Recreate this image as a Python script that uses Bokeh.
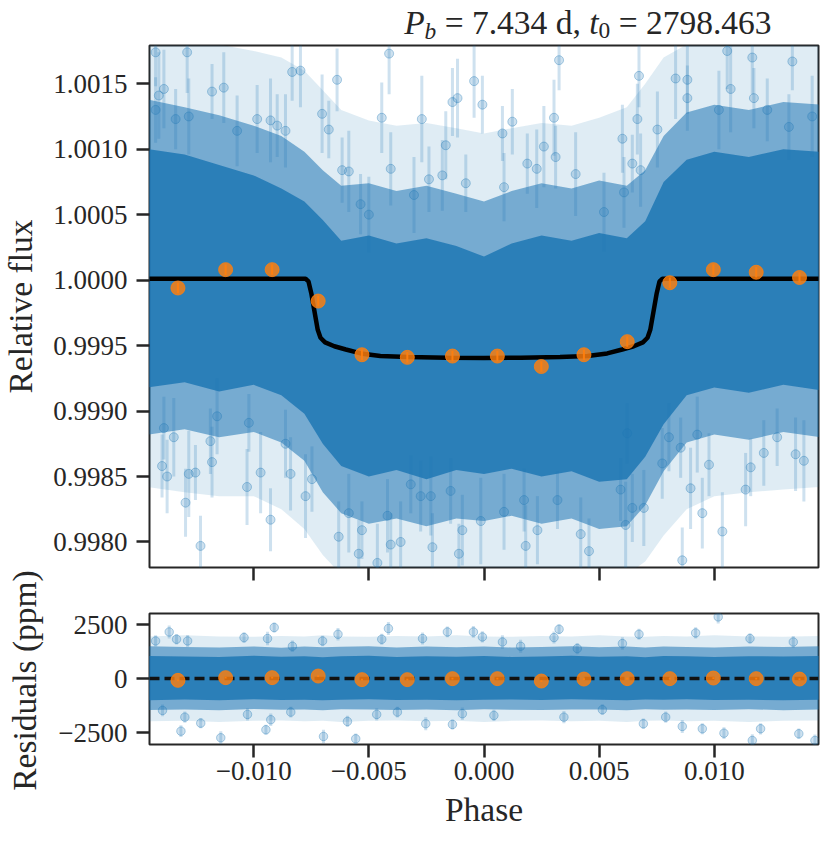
import numpy as np
from bokeh.plotting import figure
from bokeh.models import (ColumnDataSource, FixedTicker, Label, Range1d,
                          CustomJSTickFormatter, PrintfTickFormatter)
from bokeh.layouts import row, column
from bokeh.embed import file_html
from bokeh.resources import INLINE

# ---------------- data ----------------
# dense point cloud envelopes (top panel), flux vs phase
band_phase = [-0.01460, -0.01300, -0.01150, -0.01000, -0.00880, -0.00780, -0.00700,
              -0.00620, -0.00500, -0.00380, -0.00250, -0.00120, 0.00000, 0.00120,
              0.00250, 0.00380, 0.00500, 0.00620, 0.00700, 0.00780, 0.00880,
              0.01000, 0.01150, 0.01300, 0.01460]
core_hi = [1.00100, 1.00096, 1.00088, 1.00080, 1.00070, 1.00060, 1.00046, 1.00030, 1.00034,
           1.00028, 1.00032, 1.00026, 1.00018, 1.00028, 1.00034, 1.00030, 1.00036, 1.00032,
           1.00045, 1.00075, 1.00092, 1.00098, 1.00094, 1.00100, 1.00098]
core_lo = [0.99918, 0.99922, 0.99915, 0.99920, 0.99912, 0.99898, 0.99875, 0.99858, 0.99850,
           0.99855, 0.99848, 0.99855, 0.99852, 0.99856, 0.99850, 0.99854, 0.99846, 0.99848,
           0.99865, 0.99890, 0.99912, 0.99918, 0.99914, 0.99920, 0.99916]
mid_hi = [1.00138, 1.00132, 1.00126, 1.00118, 1.00110, 1.00098, 1.00084, 1.00072, 1.00074,
          1.00068, 1.00072, 1.00066, 1.00060, 1.00068, 1.00074, 1.00070, 1.00076, 1.00072,
          1.00084, 1.00110, 1.00128, 1.00134, 1.00130, 1.00136, 1.00134]
mid_lo = [0.99882, 0.99886, 0.99880, 0.99884, 0.99876, 0.99862, 0.99838, 0.99822, 0.99814,
          0.99818, 0.99812, 0.99818, 0.99816, 0.99820, 0.99814, 0.99818, 0.99810, 0.99812,
          0.99828, 0.99854, 0.99876, 0.99882, 0.99878, 0.99884, 0.99880]
outer_hi = [1.00185, 1.00185, 1.00180, 1.00175, 1.00170, 1.00160, 1.00145, 1.00130, 1.00122,
            1.00118, 1.00120, 1.00116, 1.00112, 1.00116, 1.00120, 1.00118, 1.00124, 1.00132,
            1.00150, 1.00170, 1.00180, 1.00185, 1.00185, 1.00185, 1.00185]
outer_lo = [0.99842, 0.99838, 0.99835, 0.99835, 0.99825, 0.99810, 0.99790, 0.99775, 0.99775,
            0.99775, 0.99775, 0.99775, 0.99775, 0.99775, 0.99775, 0.99775, 0.99775, 0.99775,
            0.99785, 0.99805, 0.99825, 0.99835, 0.99838, 0.99840, 0.99842]

# individual, clearly visible points outside the dense cloud (top panel)
top_out_phase = [
    -0.01426, -0.01289, -0.00833, -0.00797, -0.00638, -0.01390, -0.01181, -0.01130,
    -0.01412, -0.01426, -0.01282, -0.01339, -0.00985, -0.00927, -0.00898, -0.00862,
    -0.00703, -0.00674, -0.01072, -0.00616, -0.00587, -0.00536, -0.00500,
    -0.01398, -0.01376, -0.01282, -0.01253, -0.01296, -0.01347, -0.01188, -0.01181,
    -0.01021, -0.01029, -0.00970, -0.00927, -0.00862, -0.00840, -0.01231, -0.00775,
    -0.00747, -0.00631, -0.00587, -0.00530, -0.00544, -0.01159, -0.01390,
    -0.00412, 0.00326, -0.00043, -0.00137, -0.00115, -0.00007, -0.00444, -0.00270,
    0.00123, 0.00304, 0.00080, -0.00166, 0.00260, 0.00311, -0.00405, 0.00188,
    0.00229, -0.00239, -0.00181, 0.00398, -0.00079, 0.00087, -0.00304,
    -0.00405, -0.00362, -0.00224, -0.00419, -0.00318, -0.00231, -0.00145, -0.00094,
    -0.00014, -0.00109, 0.00087, 0.00174, 0.00232, 0.00181, 0.00319, 0.00420,
    0.00456, -0.00463, -0.00275,
    0.01056, 0.00673, 0.00832, 0.00883, 0.01339, 0.01165, 0.01071, 0.00883,
    0.00666, 0.01020, 0.01172, 0.00601, 0.00753, 0.01230, 0.01425, 0.00644,
    0.00680, 0.01324, 0.00608, 0.00521,
    0.00803, 0.00854, 0.00926, 0.00897, 0.00977, 0.01136, 0.01158, 0.00948,
    0.01035, 0.00861, 0.00615, 0.00644, 0.00593, 0.00694, 0.01273, 0.01353,
    0.01389, 0.01215, 0.00774, 0.00622]
top_out_flux = [
    1.00174, 1.00174, 1.00159, 1.00160, 1.00153, 1.00146, 1.00144, 1.00147,
    1.00141, 1.00130, 1.00125, 1.00123, 1.00123, 1.00122, 1.00118, 1.00114,
    1.00127, 1.00115, 1.00114, 1.00084, 1.00083, 1.00058, 1.00050,
    0.99858, 0.99850, 0.99852, 0.99853, 0.99830, 0.99880, 0.99877, 0.99861,
    0.99891, 0.99842, 0.99853, 0.99817, 0.99875, 0.99852, 0.99797, 0.99835,
    0.99848, 0.99804, 0.99822, 0.99809, 0.99791, 0.99896, 0.99887,
    1.00173, 1.00168, 1.00152, 1.00136, 1.00139, 1.00134, 1.00124, 1.00123,
    1.00121, 1.00124, 1.00112, 1.00103, 1.00102, 1.00094, 1.00085, 1.00089,
    1.00085, 1.00077, 1.00080, 1.00081, 1.00074, 1.00071, 1.00065,
    0.99798, 0.99800, 0.99796, 0.99820, 0.99844, 0.99835, 0.99839, 0.99809,
    0.99816, 0.99791, 0.99823, 0.99832, 0.99809, 0.99797, 0.99832, 0.99806,
    0.99793, 0.99784, 0.99835,
    1.00175, 1.00156, 1.00154, 1.00153, 1.00167, 1.00170, 1.00146, 1.00139,
    1.00123, 1.00130, 1.00139, 1.00108, 1.00115, 1.00130, 1.00125, 1.00089,
    1.00084, 1.00117, 1.00067, 1.00052,
    0.99880, 0.99872, 0.99882, 0.99841, 0.99859, 0.99840, 0.99857, 0.99822,
    0.99808, 0.99786, 0.99813, 0.99826, 0.99840, 0.99826, 0.99880, 0.99867,
    0.99862, 0.99868, 0.99860, 0.99883]
top_out_err = [
    0.00026, 0.00031, 0.00022, 0.00028, 0.00024, 0.00030, 0.00021, 0.00027,
    0.00033, 0.00025, 0.00029, 0.00023, 0.00026, 0.00032, 0.00024, 0.00028,
    0.00030, 0.00022, 0.00027, 0.00025, 0.00031, 0.00023, 0.00029,
    0.00024, 0.00028, 0.00033, 0.00021, 0.00026, 0.00030, 0.00025, 0.00027,
    0.00022, 0.00029, 0.00031, 0.00024, 0.00026, 0.00028, 0.00023, 0.00032,
    0.00025, 0.00027, 0.00030, 0.00022, 0.00026, 0.00029, 0.00024,
    0.00031, 0.00023, 0.00028, 0.00026, 0.00030, 0.00022, 0.00027, 0.00033,
    0.00025, 0.00029, 0.00021, 0.00026, 0.00031, 0.00024, 0.00028, 0.00023,
    0.00030, 0.00025, 0.00027, 0.00032, 0.00022, 0.00026, 0.00029,
    0.00024, 0.00031, 0.00026, 0.00028, 0.00022, 0.00030, 0.00025, 0.00027,
    0.00033, 0.00023, 0.00029, 0.00024, 0.00026, 0.00031, 0.00022, 0.00028,
    0.00025, 0.00030, 0.00027,
    0.00029, 0.00024, 0.00031, 0.00026, 0.00022, 0.00028, 0.00033, 0.00025,
    0.00027, 0.00030, 0.00023, 0.00026, 0.00029, 0.00024, 0.00031, 0.00022,
    0.00028, 0.00025, 0.00027, 0.00030,
    0.00026, 0.00023, 0.00029, 0.00031, 0.00024, 0.00028, 0.00022, 0.00027,
    0.00030, 0.00025, 0.00033, 0.00026, 0.00024, 0.00029, 0.00022, 0.00028,
    0.00031, 0.00025, 0.00027, 0.00023]

# transit model (black curve)
model_phase = [-0.01460, -0.00775, -0.00762, -0.00750, -0.00735, -0.00722, -0.00710,
               -0.00690, -0.00650, -0.00600, -0.00535, -0.00450, -0.00330, -0.00160,
               0.00000, 0.00160, 0.00330, 0.00450, 0.00535, 0.00600, 0.00650, 0.00690,
               0.00710, 0.00722, 0.00735, 0.00750, 0.00762, 0.00775, 0.01460]
model_flux = [1.00001, 1.00001, 0.99999, 0.99990, 0.99975, 0.99962, 0.99956,
              0.999525, 0.999495, 0.99947, 0.99944, 0.99942, 0.999413, 0.999407,
              0.999405, 0.999407, 0.999413, 0.99942, 0.99944, 0.99947, 0.999495, 0.999525,
              0.99956, 0.99962, 0.99975, 0.99990, 0.99999, 1.00001, 1.00001]

# binned points (orange)
bin_phase = [-0.01329, -0.01122, -0.00920, -0.00720, -0.00530, -0.00333, -0.00137,
             0.00058, 0.00249, 0.00434, 0.00622, 0.00807, 0.00996, 0.01182, 0.01370]
bin_flux = [0.99994, 1.00008, 1.00008, 0.99984, 0.99943, 0.99941, 0.99942,
            0.99942, 0.99934, 0.99943, 0.99953, 0.99998, 1.00008, 1.00006, 1.00002]
bin_flux_err = [0.00004, 0.00004, 0.00004, 0.00004, 0.00004, 0.00004, 0.00004,
                0.00004, 0.00004, 0.00004, 0.00004, 0.00004, 0.00004, 0.00004, 0.00004]
bin_res = [-79, 46, 46, 120, -46, -46, 0, 0, -111, -19, 0, 0, 28, 0, -19]
bin_res_err = [40, 40, 40, 40, 40, 40, 40, 40, 40, 40, 40, 40, 40, 40, 40]

# residual cloud envelopes (ppm)
res_core_hi = [1050, 1020, 1000, 1060, 1010, 1040, 990, 1030, 1060, 1000, 1030, 1010, 1050,
               1000, 1020, 1060, 1010, 1040, 990, 1050, 1030, 1000, 1040, 1020, 1050]
res_core_lo = [-1000, -960, -1000, -950, -990, -970, -1000, -980, -950, -990, -970, -1000, -980,
               -960, -990, -950, -980, -1000, -960, -980, -950, -990, -970, -1000, -980]
res_mid_hi = [1500, 1460, 1440, 1490, 1430, 1480, 1450, 1470, 1500, 1440, 1480, 1450, 1490,
              1440, 1460, 1500, 1450, 1480, 1440, 1490, 1460, 1440, 1480, 1460, 1500]
res_mid_lo = [-1450, -1420, -1460, -1400, -1440, -1430, -1460, -1410, -1420, -1450, -1430, -1460, -1410,
              -1440, -1450, -1420, -1430, -1460, -1410, -1440, -1420, -1450, -1410, -1460, -1430]
res_outer_hi = [1950, 2000, 1950, 1930, 1970, 1950, 2000, 1950, 1930, 1970, 1950, 2000, 1950,
                1930, 1970, 1950, 2000, 1950, 1930, 1970, 1950, 2000, 1950, 1930, 1970]
res_outer_lo = [-1970, -1950, -2000, -1950, -1930, -1970, -1950, -2000, -1950, -1930, -1970, -1950, -2000,
                -1950, -1930, -1970, -1950, -2000, -1950, -1930, -1970, -1950, -2000, -1950, -1930]

# residual outliers (ppm)
res_out_phase = [
    -0.01426, -0.01367, -0.01335, -0.01287, -0.01042, -0.00940, -0.00911, -0.00832,
    -0.00634, -0.00444, -0.00415, -0.00701, -0.00046, -0.00007, 0.00080, 0.00326,
    0.00304, 0.00673, 0.00601, 0.00919, 0.01017, 0.01155, 0.01343, -0.00267,
    -0.00159, 0.00159, 0.00405,
    -0.01316, -0.01230, -0.01143, -0.01299, -0.01027, -0.00947, -0.00926, -0.00839,
    -0.00697, -0.00593, -0.00557, -0.00466, -0.01396, -0.00376, -0.00253, -0.00137,
    -0.00094, 0.00043, 0.00347, 0.00692, 0.00861, 0.00948, 0.01042, 0.01201,
    0.01165, 0.01367, 0.01437, 0.00789, 0.00514]
res_out_val = [
    1741, 2157, 1819, 1741, 1898, 1852, 2361, 1495,
    2051, 1819, 2315, 1741, 2157, 1926, 1694, 2282,
    1898, 2051, 1620, 2111, 2852, 1852, 1694, 1852,
    2157, 1495, 1389,
    -2426, -2056, -2731, -1778, -1653, -2361, -1898, -1546,
    -2671, -1977, -2778, -1653, -1468, -1546, -2083, -2116,
    -1620, -1699, -1778, -2083, -2208, -2315, -2519, -2315,
    -2856, -2546, -2856, -1778, -1435]
res_out_err = [
    260, 300, 240, 280, 250, 310, 230, 270,
    290, 250, 300, 240, 270, 260, 310, 230,
    280, 250, 290, 260, 300, 240, 270, 280,
    250, 300, 260,
    270, 240, 300, 260, 280, 230, 290, 250,
    310, 260, 240, 280, 270, 250, 300, 230,
    290, 260, 280, 240, 300, 250, 270, 260,
    290, 240, 280, 260, 250]

zero_level = [0.0]

x_ticks = [-0.010, -0.005, 0.000, 0.005, 0.010]
flux_ticks = [0.9980, 0.9985, 0.9990, 0.9995, 1.0000, 1.0005, 1.0010, 1.0015]
res_ticks = [-2500, 0, 2500]

# ---------------- styling ----------------
BLUE = "#1f77b4"
ORANGE = "#ff7f0e"
INK = "#262626"
FONT = "Liberation Serif"
TICK_FS = "27px"
LABEL_FS = "33.5px"
BASE_SHIFT = 0.40   # empirical offset (in em) of the alphabetic baseline of Labels

x_range = Range1d(-0.014525, 0.014525)


def style_axes(p):
    p.outline_line_color = INK
    p.outline_line_width = 2
    p.grid.visible = False
    p.background_fill_color = "white"
    p.border_fill_color = "white"
    for ax in p.axis:
        ax.axis_line_color = None
        ax.major_tick_line_color = INK
        ax.major_tick_line_width = 2.5
        ax.major_tick_out = 13
        ax.major_tick_in = 0
        ax.minor_tick_line_color = None
        ax.major_label_text_font = FONT
        ax.major_label_text_font_size = TICK_FS
        ax.major_label_text_color = INK


COL_W = 781

# ---- title strip ----
tfig = figure(width=COL_W, height=44, title=None, toolbar_location=None, output_backend="svg",
              x_axis_location=None, y_axis_location=None, min_border=0,
              x_range=Range1d(0, 1), y_range=Range1d(0, 1))
tfig.outline_line_color = None
tfig.grid.visible = False
F = 33.5
adv = {"P": 0.611, "b": 0.5, "t": 0.278, " ": 0.25, "=": 0.564, ".": 0.25, ",": 0.25, "d": 0.5}
# (text, style, relative size, baseline from strip bottom, gap before in em)
pieces = [("P", "italic", 1.0, 9, 0.0), ("b", "italic", 0.7, 4.5, 0.0),
          ("= 7.434 d,", "normal", 1.0, 9, 0.25),
          ("t", "italic", 1.0, 9, 0.25), ("0", "normal", 0.7, 4.5, 0.0),
          ("= 2798.463", "normal", 1.0, 9, 0.25)]


def width_of(s, scale):
    return sum(adv.get(c, 0.5) for c in s) * F * scale


total = sum(width_of(s, sc) + gap * F for s, _, sc, _, gap in pieces)
cx = 438.35 - total / 2
for s, style, sc, by, gap in pieces:
    cx += gap * F
    tfig.add_layout(Label(x=cx, y=by + BASE_SHIFT * F * sc, x_units="screen", y_units="screen",
                          text=s, text_font=FONT, text_font_size=f"{F * sc:.1f}px",
                          text_font_style=style, text_color=INK,
                          text_align="left", text_baseline="alphabetic"))
    cx += width_of(s, sc)

# ---- top panel ----
p1 = figure(width=COL_W, height=546, title=None, x_range=x_range,
            y_range=Range1d(0.997805, 1.001792), toolbar_location=None,
            output_backend="svg", min_border_left=104, min_border_right=8,
            min_border_top=1, min_border_bottom=23)
style_axes(p1)
p1.xaxis.ticker = FixedTicker(ticks=x_ticks)
p1.xaxis.formatter = CustomJSTickFormatter(code="return '';")
p1.xaxis.major_label_text_font_size = "2px"
p1.yaxis.ticker = FixedTicker(ticks=flux_ticks)
p1.yaxis.formatter = PrintfTickFormatter(format="%.4f")
p1.yaxis.major_label_standoff = 9

p1.varea(x=band_phase, y1=outer_lo, y2=outer_hi, fill_color=BLUE, fill_alpha=0.14)
p1.varea(x=band_phase, y1=mid_lo, y2=mid_hi, fill_color=BLUE, fill_alpha=0.55)
p1.varea(x=band_phase, y1=core_lo, y2=core_hi, fill_color=BLUE, fill_alpha=0.85)

rows = list(zip(top_out_phase, top_out_flux, top_out_err))
src1 = ColumnDataSource(dict(
    x=[r[0] for r in rows], y=[r[1] for r in rows],
    lo=[r[1] - r[2] for r in rows], hi=[r[1] + r[2] for r in rows]))
p1.segment(x0="x", y0="lo", x1="x", y1="hi", source=src1, line_color=BLUE,
           line_alpha=0.22, line_width=3)
p1.scatter(x="x", y="y", source=src1, size=9, fill_color=BLUE, fill_alpha=0.22,
           line_color=BLUE, line_alpha=0.35, line_width=1)

p1.line(model_phase, model_flux, line_color="black", line_width=4.5)

bsrc1 = ColumnDataSource(dict(x=bin_phase, y=bin_flux,
                              lo=[f - e for f, e in zip(bin_flux, bin_flux_err)],
                              hi=[f + e for f, e in zip(bin_flux, bin_flux_err)]))
p1.segment(x0="x", y0="lo", x1="x", y1="hi", source=bsrc1, line_color=ORANGE,
           line_alpha=0.9, line_width=2)
p1.scatter(x="x", y="y", source=bsrc1, size=14, fill_color=ORANGE, fill_alpha=0.82,
           line_color=ORANGE, line_alpha=0.82)

# ---- residual panel ----
p2 = figure(width=COL_W, height=248, title=None, x_range=x_range,
            y_range=Range1d(-3042, 3009), toolbar_location=None,
            output_backend="svg", min_border_left=104, min_border_right=8,
            min_border_top=23, min_border_bottom=94)
style_axes(p2)
p2.xaxis.ticker = FixedTicker(ticks=x_ticks)
p2.xaxis.formatter = CustomJSTickFormatter(
    code="return (tick < -1e-12 ? '\u2212' : '') + Math.abs(tick).toFixed(3);")
p2.xaxis.major_label_standoff = 4
p2.xaxis.axis_label = "Phase"
p2.xaxis.axis_label_text_font = FONT
p2.xaxis.axis_label_text_font_size = LABEL_FS
p2.xaxis.axis_label_text_font_style = "normal"
p2.xaxis.axis_label_text_color = INK
p2.xaxis.axis_label_standoff = 8
p2.yaxis.ticker = FixedTicker(ticks=res_ticks)
p2.yaxis.formatter = CustomJSTickFormatter(
    code="return (tick < 0 ? '\u2212' : '') + Math.abs(tick).toFixed(0);")
p2.yaxis.major_label_standoff = 9

p2.varea(x=band_phase, y1=res_outer_lo, y2=res_outer_hi, fill_color=BLUE, fill_alpha=0.14)
p2.varea(x=band_phase, y1=res_mid_lo, y2=res_mid_hi, fill_color=BLUE, fill_alpha=0.55)
p2.varea(x=band_phase, y1=res_core_lo, y2=res_core_hi, fill_color=BLUE, fill_alpha=0.85)

rrows = list(zip(res_out_phase, res_out_val, res_out_err))
src2 = ColumnDataSource(dict(
    x=[r[0] for r in rrows], y=[r[1] for r in rrows],
    lo=[r[1] - r[2] for r in rrows], hi=[r[1] + r[2] for r in rrows]))
p2.segment(x0="x", y0="lo", x1="x", y1="hi", source=src2, line_color=BLUE,
           line_alpha=0.22, line_width=3)
p2.scatter(x="x", y="y", source=src2, size=8.5, fill_color=BLUE, fill_alpha=0.22,
           line_color=BLUE, line_alpha=0.35, line_width=1)

p2.hspan(y=zero_level, line_color="#111111", line_width=3.3, line_dash="10 5")

bsrc2 = ColumnDataSource(dict(x=bin_phase, y=bin_res,
                              lo=[f - e for f, e in zip(bin_res, bin_res_err)],
                              hi=[f + e for f, e in zip(bin_res, bin_res_err)]))
p2.segment(x0="x", y0="lo", x1="x", y1="hi", source=bsrc2, line_color=ORANGE,
           line_alpha=0.9, line_width=2)
p2.scatter(x="x", y="y", source=bsrc2, size=14, fill_color=ORANGE, fill_alpha=0.82,
           line_color=ORANGE, line_alpha=0.82)

# ---- left strip with the y-axis labels ----
TOTAL_H = 44 + 546 + 248
LF = 33.5
lfig = figure(width=45, height=TOTAL_H, title=None, toolbar_location=None, output_backend="svg",
              x_axis_location=None, y_axis_location=None, min_border=0,
              x_range=Range1d(0, 1), y_range=Range1d(0, 1))
lfig.outline_line_color = None
lfig.grid.visible = False
lfig.add_layout(Label(x=33.3 - BASE_SHIFT * LF, y=TOTAL_H - 306, x_units="screen", y_units="screen",
                      text="Relative flux", angle=np.pi / 2, text_font=FONT,
                      text_font_size=LABEL_FS, text_color=INK,
                      text_align="center", text_baseline="alphabetic"))
lfig.add_layout(Label(x=37.3 - BASE_SHIFT * LF, y=TOTAL_H - 680, x_units="screen", y_units="screen",
                      text="Residuals (ppm)", angle=np.pi / 2, text_font=FONT,
                      text_font_size=LABEL_FS, text_color=INK,
                      text_align="center", text_baseline="alphabetic"))

layout = row(lfig, column(tfig, p1, p2, spacing=0), spacing=0)
open("out.html", "w").write(file_html(layout, INLINE))
